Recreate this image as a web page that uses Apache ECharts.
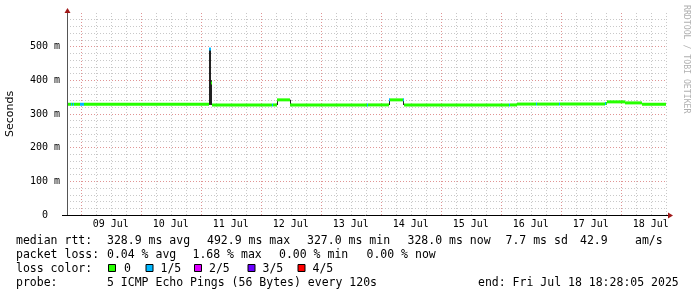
<!DOCTYPE html>
<html><head><meta charset="utf-8">
<script src="https://cdn.jsdelivr.net/npm/echarts@6/dist/echarts.min.js"></script>
<style>html,body{margin:0;padding:0;background:#fff}#c{width:697px;height:297px}</style>
</head><body><div id="c"></div>
<script>
// Times are 'DD HH:MM' in July 2025
const axisStart = '08 18:28:05';
const axisEnd = '18 18:28:05';
const dayLabels = ['09 Jul','10 Jul','11 Jul','12 Jul','13 Jul','14 Jul','15 Jul','16 Jul','17 Jul','18 Jul'];

// median rtt segments (ms) and loss count (out of 5)
const segStart = ['08 18:28','08 20:04','08 20:28','08 20:52','08 21:16','08 23:40','09 01:16','11 03:16','11 04:04','11 04:28',
                  '12 04:28','12 04:52','12 06:28','12 11:40','13 18:28','13 18:52','14 03:16','14 03:40','14 08:52','14 09:16',
                  '16 03:16','16 03:40','16 06:28','16 14:04','16 14:28','16 23:16','16 23:40','17 17:40','17 18:04','17 18:28',
                  '18 01:40','18 08:28'];
const segEndLast = '18 18:04';
const segMs = [328.9,328.9,328.9,328.9,328.9,328.9,328.9,492.9,392,327,
               327,327,342,327,327,327,342,342,342,327,
               327,327,329.5,329.5,329.5,329.5,329.5,331,331,336,
               333,328.9];
const segLoss = [0,1,0,1,0,1,0,1,0,0,
                 1,0,0,0,1,0,1,0,1,0,
                 1,0,0,1,0,1,0,1,0,0,
                 0,0];

// smoke (spread of pings)
const smokeStart = ['11 03:16','11 04:04','12 06:28','12 11:40','14 03:16','14 08:52','17 17:40'];
const smokeEnd   = ['11 04:04','11 04:28','12 06:52','12 12:04','14 03:40','14 09:16','17 18:04'];
const smokeLo    = [327,327,327,327,327,327,329.5];
const smokeHi    = [492.9,400,342,342,342,342,336];

const lossColors = ['#26ff00','#00b8ff','#dd00ff','#6a00ff','#ff0000'];
const lossLabels = ['0','1/5','2/5','3/5','4/5'];

function hrs(s){
  const p = s.split(' '); const t = p[1].split(':');
  return (parseInt(p[0],10)-8)*24 + (+t[0]) + (+t[1])/60 + (t[2]? (+t[2])/3600 : 0);
}
const X0 = hrs(axisStart), X1 = hrs(axisEnd);

const segData = segStart.map((s,i)=>[hrs(s), hrs(i+1<segStart.length?segStart[i+1]:segEndLast), segMs[i], segLoss[i]]);
const smokeData = smokeStart.map((s,i)=>[hrs(s), hrs(smokeEnd[i]), smokeLo[i], smokeHi[i]]);

const sixHour = [], midnights = [], noons = [];
for (let t = 24; t <= X1; t += 6) { if (t % 24) sixHour.push(t); else midnights.push(t); }
for (let i = 0; i < dayLabels.length; i++) noons.push(36 + 24*i);

const MONO = 'DejaVu Sans Mono';
const chart = echarts.init(document.getElementById('c'), null, {renderer:'canvas'});

const graphics = [];
function txt(x, y, s, opt) {
  graphics.push(Object.assign({type:'text', x:x, y:y, style:{text:s, fill:'#000', font:'11.5px "DejaVu Sans Mono"', textVerticalAlign:'middle', textAlign:'left'}}, opt||{}));
}
// footer rows
const r1 = 241, r2 = 255, r3 = 269, r4 = 283;
txt(16,r1,'median rtt:'); txt(107,r1,'328.9 ms avg'); txt(207,r1,'492.9 ms max'); txt(307,r1,'327.0 ms min');
txt(407.5,r1,'328.0 ms now'); txt(505.5,r1,'7.7 ms sd'); txt(580,r1,'42.9'); txt(635,r1,'am/s');
txt(16,r2,'packet loss:'); txt(107,r2,'0.04 % avg'); txt(192.5,r2,'1.68 % max'); txt(279,r2,'0.00 % min'); txt(366.5,r2,'0.00 % now');
txt(16,r3,'loss color:');
const boxX = [108,145.5,194,247.5,297.5];
const lblX = [124,160.5,209,262.5,312.5];
for (let i=0;i<5;i++){
  graphics.push({type:'rect', shape:{x:boxX[i]+0.5, y:264.5, width:7, height:7}, style:{fill:lossColors[i], stroke:'#000', lineWidth:1}});
  txt(lblX[i], r3, lossLabels[i]);
}
txt(16,r4,'probe:'); txt(107,r4,'5 ICMP Echo Pings (56 Bytes) every 120s'); txt(478,r4,'end: Fri Jul 18 18:28:05 2025');
// axis title and side note
graphics.push({type:'text', x:10, y:114, rotation:Math.PI/2, style:{text:'Seconds', fill:'#000', font:'11px "DejaVu Sans"', textAlign:'center', textVerticalAlign:'middle'}});
graphics.push({type:'text', x:686, y:5, rotation:-Math.PI/2, style:{text:'RRDTOOL / TOBI OETIKER', fill:'#b0b0b0', font:'8.2px "DejaVu Sans Mono"', textAlign:'left', textVerticalAlign:'middle'}});
// axis extensions and arrows
graphics.push({type:'line', shape:{x1:62, y1:215.5, x2:669, y2:215.5}, style:{stroke:'#000', lineWidth:1}, z:10});
graphics.push({type:'line', shape:{x1:67.5, y1:10, x2:67.5, y2:215}, style:{stroke:'#555', lineWidth:1}, z:10});
graphics.push({type:'polygon', shape:{points:[[64.5,13],[70.5,13],[67.5,8]]}, style:{fill:'#a01818'}, z:11});
graphics.push({type:'polygon', shape:{points:[[668,212.5],[668,218.5],[673,215.5]]}, style:{fill:'#a01818'}, z:11});

const gridMinor = '#c8c8c8', gridMajor = '#e09494';

chart.setOption({
  animation:false,
  backgroundColor:'#fff',
  grid:{left:67, top:13, width:600, height:202, containLabel:false},
  xAxis:[
    {type:'value', position:'bottom', min:X0, max:X1, axisLine:{show:false}, axisTick:{show:false, customValues:sixHour},
     axisLabel:{show:false}, splitLine:{show:true, lineStyle:{color:gridMinor, type:[1,2], width:1}}},
    {type:'value', position:'bottom', min:X0, max:X1, axisLine:{show:false}, axisTick:{show:false, customValues:midnights},
     axisLabel:{show:true, customValues:noons, formatter:function(v){ return dayLabels[Math.round((v-36)/24)] || ''; },
       fontFamily:MONO, fontSize:10, color:'#000', margin:4},
     splitLine:{show:true, lineStyle:{color:gridMajor, type:[1,2], width:1}}}
  ],
  yAxis:{type:'value', min:0, max:600, interval:100,
    axisLine:{show:false}, axisTick:{show:false},
    axisLabel:{fontFamily:MONO, fontSize:10, color:'#000', margin:7,
      formatter:function(v){ if (v===0) return '0  '; if (v>=600) return ''; return v+' m'; }},
    splitLine:{show:true, showMaxLine:false, lineStyle:{color:gridMajor, type:[1,2], width:1}},
    minorTick:{show:false, splitNumber:5},
    minorSplitLine:{show:true, lineStyle:{color:gridMinor, type:[1,2], width:1}}},
  series:[
    {type:'custom', name:'smoke', xAxisIndex:0, data:smokeData, encode:{x:[0,1], y:[2,3]}, z:3,
     renderItem:function(params, api){
       const a = api.coord([api.value(0), api.value(3)]);
       const b = api.coord([api.value(1), api.value(2)]);
       return {type:'rect', shape:{x:a[0], y:a[1], width:b[0]-a[0], height:b[1]-a[1]}, style:{fill:'#222'}};
     }},
    {type:'custom', name:'median', xAxisIndex:0, data:segData, encode:{x:[0,1], y:2}, z:4,
     renderItem:function(params, api){
       const a = api.coord([api.value(0), api.value(2)]);
       const b = api.coord([api.value(1), api.value(2)]);
       return {type:'rect', shape:{x:a[0], y:a[1]-1.5, width:b[0]-a[0], height:3}, style:{fill:lossColors[api.value(3)]}};
     }}
  ],
  graphic:graphics
});
</script>
</body></html>
